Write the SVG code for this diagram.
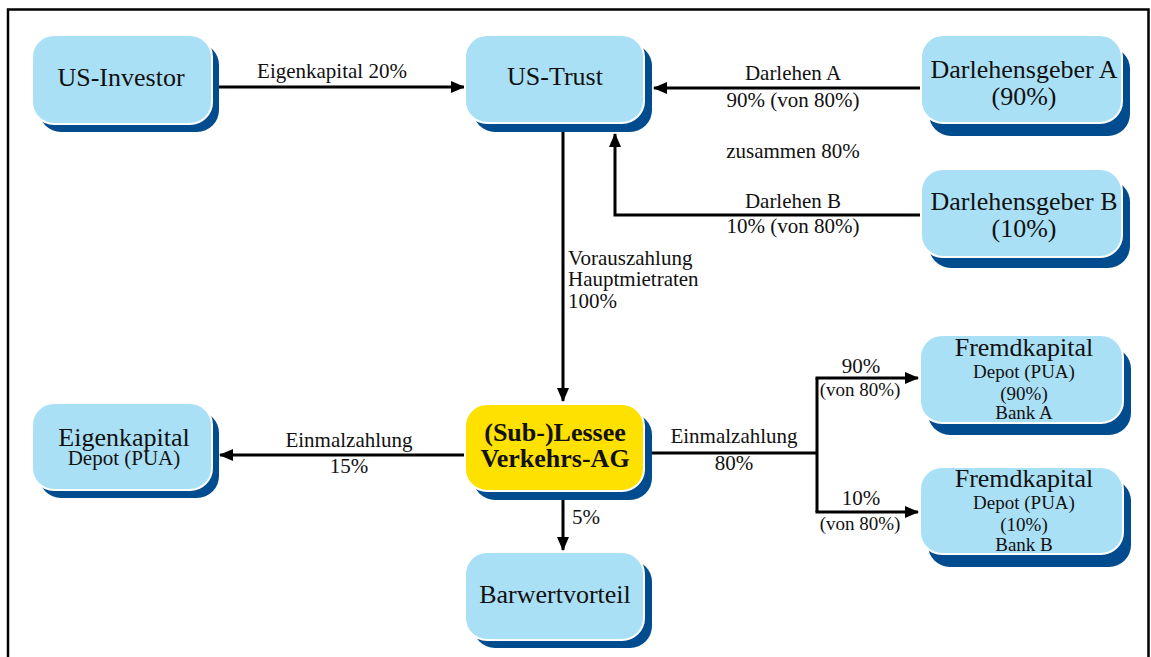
<svg xmlns="http://www.w3.org/2000/svg" width="1151" height="657" viewBox="0 0 1151 657">
  <defs>
    <style>
      .box { fill: #aae0f6; stroke: #ffffff; stroke-width: 2; }
      .boxY { fill: #ffe100; stroke: #ffffff; stroke-width: 2; }
      .shadow { fill: #004c8f; }
      .big { font-family: "Liberation Serif", "Times New Roman", serif; font-size: 26px; fill: #111; text-anchor: middle; }
      .bold { font-weight: bold; }
      .mid { font-family: "Liberation Serif", "Times New Roman", serif; font-size: 21px; fill: #111; text-anchor: middle; }
      .small { font-family: "Liberation Serif", "Times New Roman", serif; font-size: 19px; fill: #111; text-anchor: middle; }
      .lbl { font-family: "Liberation Serif", "Times New Roman", serif; font-size: 21px; fill: #111; }
      .mk { text-anchor: middle; }
      .edge { fill: none; stroke: #000; stroke-width: 3; }
    </style>
    <marker id="arrow" viewBox="0 0 14 12" refX="13" refY="6" markerWidth="14" markerHeight="12" markerUnits="userSpaceOnUse" orient="auto">
      <path d="M0,0 L14,6 L0,12 Z" fill="#000"/>
    </marker>
  </defs>

  <rect x="0" y="0" width="1151" height="657" fill="#ffffff"/>
  <!-- outer frame -->
  <rect x="8" y="9.5" width="1140.5" height="670" fill="none" stroke="#000" stroke-width="2.5"/>

  <!-- connectors -->
  <g id="connectors">
    <line class="edge" x1="219" y1="87" x2="464" y2="87" marker-end="url(#arrow)"/>
    <line class="edge" x1="921" y1="88" x2="654" y2="88" marker-end="url(#arrow)"/>
    <polyline class="edge" points="921,215 615,215 615,134" marker-end="url(#arrow)"/>
    <line class="edge" x1="563" y1="132" x2="563" y2="401" marker-end="url(#arrow)"/>
    <line class="edge" x1="465" y1="455" x2="220" y2="455" marker-end="url(#arrow)"/>
    <line class="edge" x1="563" y1="500" x2="563" y2="550" marker-end="url(#arrow)"/>
    <polyline class="edge" points="652,453 817,453"/>
    <polyline class="edge" points="817,378 817,512"/>
    <line class="edge" x1="815.5" y1="378" x2="918" y2="378" marker-end="url(#arrow)"/>
    <line class="edge" x1="815.5" y1="512" x2="918" y2="512" marker-end="url(#arrow)"/>

    <text class="lbl mk" x="332" y="78">Eigenkapital 20%</text>
    <text class="lbl mk" x="793" y="80">Darlehen A</text>
    <text class="lbl mk" x="793" y="107">90% (von 80%)</text>
    <text class="lbl mk" x="793" y="158">zusammen 80%</text>
    <text class="lbl mk" x="793" y="208">Darlehen B</text>
    <text class="lbl mk" x="793" y="233">10% (von 80%)</text>
    <text class="lbl" x="568" y="265">Vorauszahlung</text>
    <text class="lbl" x="568" y="286">Hauptmietraten</text>
    <text class="lbl" x="568" y="308">100%</text>
    <text class="lbl mk" x="349" y="447">Einmalzahlung</text>
    <text class="lbl mk" x="349" y="473">15%</text>
    <text class="lbl mk" x="734" y="443">Einmalzahlung</text>
    <text class="lbl mk" x="734" y="470">80%</text>
    <text class="lbl" x="572" y="524">5%</text>
    <text class="small" x="861" y="373" style="font-size:21px">90%</text>
    <text class="small" x="860" y="396">(von 80%)</text>
    <text class="small" x="861" y="505" style="font-size:21px">10%</text>
    <text class="small" x="860" y="530">(von 80%)</text>
  </g>

  <g id="us-investor">
    <rect class="shadow" x="39" y="43" width="180" height="89" rx="22"/>
    <rect class="box" x="32" y="35" width="180" height="89" rx="22"/>
    <text class="big" x="121" y="86">US-Investor</text>
  </g>

  <g id="us-trust">
    <rect class="shadow" x="473" y="44" width="179" height="88" rx="22"/>
    <rect class="box" x="465" y="35" width="179" height="88" rx="22"/>
    <text class="big" x="555" y="85">US-Trust</text>
  </g>

  <g id="darlehensgeber-a">
    <rect class="shadow" x="929" y="47" width="201" height="89" rx="22"/>
    <rect class="box" x="921" y="35" width="201" height="88" rx="22"/>
    <text class="big" x="1024" y="78">Darlehensgeber A</text>
    <text class="big" x="1024" y="105">(90%)</text>
  </g>

  <g id="darlehensgeber-b">
    <rect class="shadow" x="929" y="180" width="201" height="88" rx="22"/>
    <rect class="box" x="921" y="169" width="201" height="88" rx="22"/>
    <text class="big" x="1024" y="210">Darlehensgeber B</text>
    <text class="big" x="1024" y="237">(10%)</text>
  </g>

  <g id="eigenkapital">
    <rect class="shadow" x="39" y="411" width="180" height="87" rx="22"/>
    <rect class="box" x="32" y="403" width="180" height="87" rx="22"/>
    <text class="big" x="124" y="446">Eigenkapital</text>
    <text class="mid" x="124" y="465">Depot (PUA)</text>
  </g>

  <g id="lessee">
    <rect class="shadow" x="473" y="413" width="179" height="87" rx="22"/>
    <rect class="boxY" x="465" y="404" width="179" height="87" rx="22"/>
    <text class="big bold" x="555" y="441">(Sub-)Lessee</text>
    <text class="big bold" x="555" y="467">Verkehrs-AG</text>
  </g>

  <g id="barwertvorteil">
    <rect class="shadow" x="473" y="560" width="179" height="88" rx="22"/>
    <rect class="box" x="465" y="552" width="179" height="88" rx="22"/>
    <text class="big" x="555" y="603">Barwertvorteil</text>
  </g>

  <g id="fremdkapital-a">
    <rect class="shadow" x="928" y="347" width="203" height="88" rx="22"/>
    <rect class="box" x="920" y="335" width="203" height="88" rx="22"/>
    <text class="big" x="1024" y="356">Fremdkapital</text>
    <text class="small" x="1024" y="378">Depot (PUA)</text>
    <text class="small" x="1024" y="400">(90%)</text>
    <text class="small" x="1024" y="419">Bank A</text>
  </g>

  <g id="fremdkapital-b">
    <rect class="shadow" x="928" y="479" width="203" height="88" rx="22"/>
    <rect class="box" x="920" y="467" width="203" height="87" rx="22"/>
    <text class="big" x="1024" y="487">Fremdkapital</text>
    <text class="small" x="1024" y="509">Depot (PUA)</text>
    <text class="small" x="1024" y="531">(10%)</text>
    <text class="small" x="1024" y="551">Bank B</text>
  </g>
</svg>
